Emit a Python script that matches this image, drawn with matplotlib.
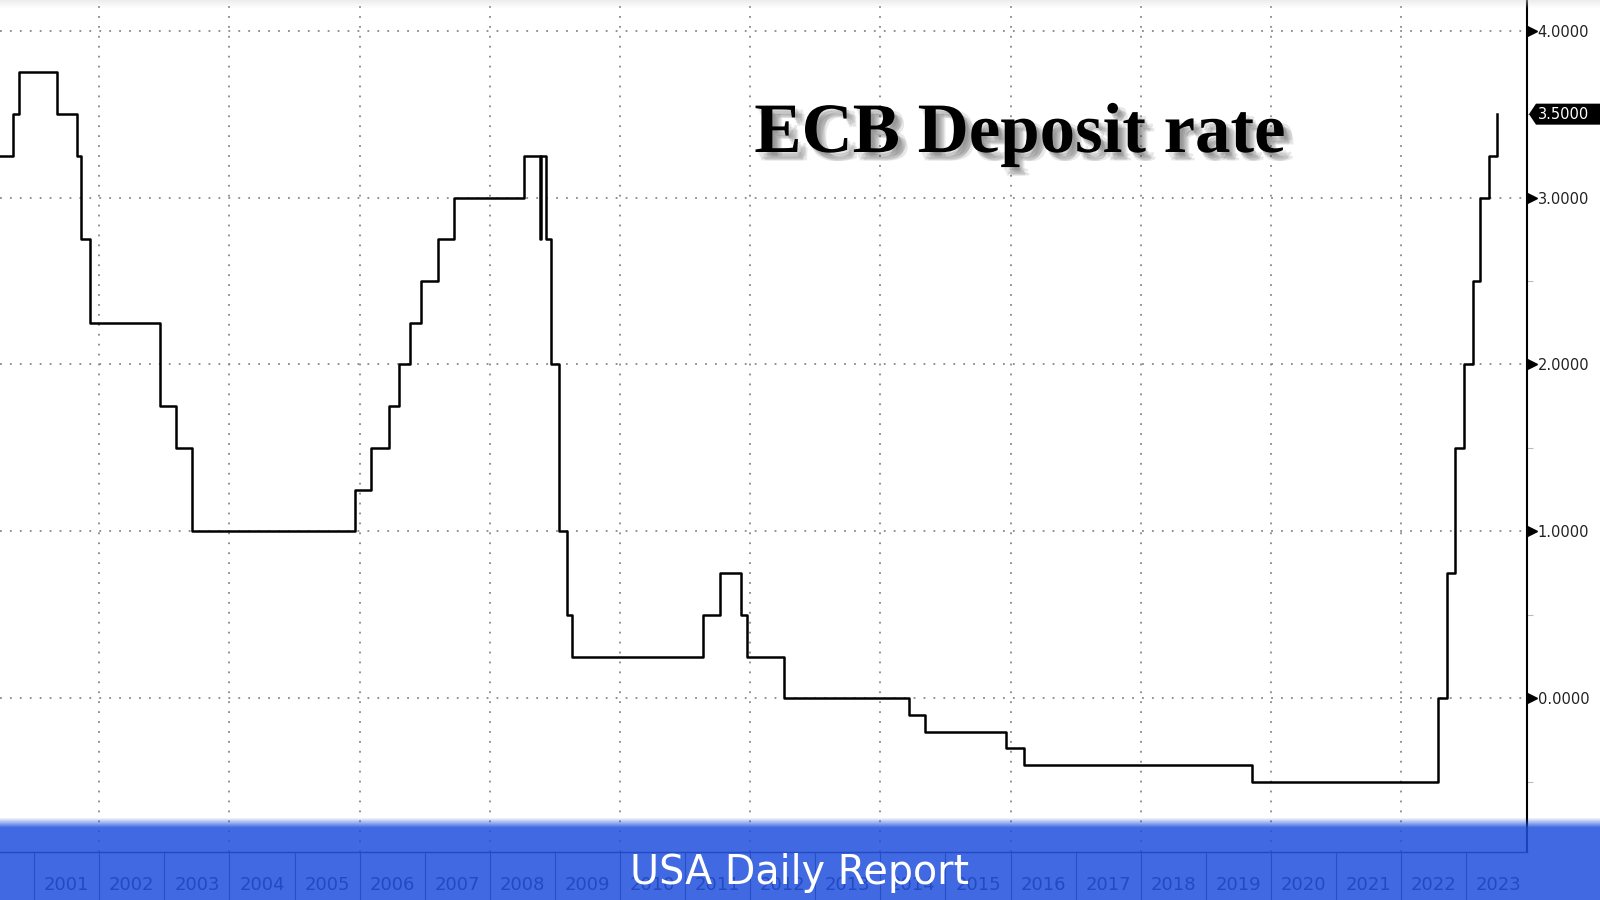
import matplotlib
matplotlib.use('Agg')
import matplotlib.pyplot as plt
import matplotlib.patheffects as pe
from matplotlib.patches import Rectangle, Polygon
from matplotlib.ticker import FixedLocator, FormatStrFormatter, NullFormatter
import numpy as np
import pandas as pd

# ECB deposit facility rate, date of each change and new level (%)
change_dates = ['2000-06-09', '2000-09-01', '2000-10-06', '2001-05-11', '2001-08-31',
                '2001-09-18', '2001-11-09', '2002-12-06', '2003-03-07', '2003-06-06',
                '2005-12-06', '2006-03-08', '2006-06-15', '2006-08-09', '2006-10-11',
                '2006-12-13', '2007-03-14', '2007-06-13', '2008-07-09', '2008-10-08',
                '2008-10-15', '2008-11-12', '2008-12-10', '2009-01-21', '2009-03-11',
                '2009-04-08', '2011-04-13', '2011-07-13', '2011-11-09', '2011-12-14',
                '2012-07-11', '2014-06-11', '2014-09-10', '2015-12-09', '2016-03-16',
                '2019-09-18', '2022-07-27', '2022-09-14', '2022-11-02', '2022-12-21',
                '2023-02-08', '2023-03-22', '2023-05-10', '2023-06-21']
deposit_rate = [3.25, 3.50, 3.75, 3.50, 3.25,
                2.75, 2.25, 1.75, 1.50, 1.00,
                1.25, 1.50, 1.75, 2.00, 2.25,
                2.50, 2.75, 3.00, 3.25, 2.75,
                3.25, 2.75, 2.00, 1.00, 0.50,
                0.25, 0.50, 0.75, 0.50, 0.25,
                0.00, -0.10, -0.20, -0.30, -0.40,
                -0.50, 0.00, 0.75, 1.50, 2.00,
                2.50, 3.00, 3.25, 3.50]
year_labels = [str(y) for y in range(2001, 2024)]
y_ticks = [0, 1, 2, 3, 4]

title = "ECB Deposit rate"
banner_text = "USA Daily Report"

# decimal years for the x axis
d = pd.to_datetime(change_dates)
x = d.year + (d.dayofyear - 1) / np.where(d.is_leap_year, 366, 365)

W, H = 1600, 900
fig = plt.figure(figsize=(16, 9), dpi=100)
ax = fig.add_axes([0, 1 - 852 / H, 1526.7 / W, 852 / H])

ax.step(x, deposit_rate, where='post', color='black', lw=1.8, zorder=3)

ax.set_xlim(2000.474, 2023.93)
ax.set_ylim(-0.921, 4.184)

# spines
for s in ['left', 'top']:
    ax.spines[s].set_visible(False)
ax.spines['right'].set_color('black')
ax.spines['right'].set_linewidth(1.5)
ax.spines['bottom'].set_color('#333333')
ax.spines['bottom'].set_linewidth(1.0)

# y axis on the right
ax.yaxis.tick_right()
ax.set_yticks(y_ticks)
ax.yaxis.set_major_formatter(FormatStrFormatter('%.4f'))
ax.yaxis.set_minor_locator(FixedLocator(np.arange(-0.5, 4.0, 1.0)))
ax.tick_params(axis='y', which='major', length=0, pad=8, labelsize=10.5,
               labelcolor='#222222')
ax.tick_params(axis='y', which='minor', length=4, width=0.8, color='#bbbbbb')
ax.plot([1.0032] * len(y_ticks), y_ticks, marker='>', ls='none', ms=7, color='black',
        transform=ax.get_yaxis_transform(), clip_on=False, zorder=4)

# x axis: separators at year starts, labels centred in each year
years = np.arange(2001, 2024)
ax.xaxis.set_major_locator(FixedLocator(years))
ax.xaxis.set_major_formatter(NullFormatter())
ax.xaxis.set_minor_locator(FixedLocator(years + 0.5))
ax.set_xticklabels(year_labels, minor=True)
ax.tick_params(axis='x', which='major', direction='out', length=36, width=0.8,
               color='#555555')
ax.tick_params(axis='x', which='minor', length=0, pad=17.5, labelsize=13,
               labelcolor='#333333')
for lab in ax.get_xticklabels(minor=True):
    lab.set_family(['Liberation Sans Narrow', 'DejaVu Sans'])

# dotted grid
grid_kw = dict(color='#888888', lw=1.3, ls=(0, (1, 4.5)), zorder=1)
for v in y_ticks:
    ax.axhline(v, **grid_kw)
for yr in range(2002, 2024, 2):
    ax.axvline(yr, **grid_kw)

# faint grey strip along the top edge
for i in range(8):
    fig.patches.append(Rectangle((0, 1 - (i + 1) / H), 1, 1 / H, transform=fig.transFigure,
                                 facecolor='#d8d8d8', edgecolor='none',
                                 alpha=0.45 * (1 - i / 8), zorder=2))

# title with soft shadow
shadow = [pe.SimplePatchShadow(offset=o, shadow_rgbFace='#444444', alpha=0.12)
          for o in [(2, -2), (3, -4), (5, -5), (6, -3), (4, -6), (7, -6)]]
fig.text(1020 / W, 1 - 152 / H, title, ha='center', va='baseline',
         fontsize=51, fontweight='bold', family='Liberation Serif',
         path_effects=shadow + [pe.Normal()], zorder=4)

# last value tag
fig.canvas.draw()
px, py = ax.transData.transform((x[-1], deposit_rate[-1]))
tip = 1529
hh = 10.5
verts = [(tip, py), (tip + 7, py + hh), (W + 5, py + hh), (W + 5, py - hh), (tip + 7, py - hh)]
verts = [(vx / W, vy / H) for vx, vy in verts]
fig.patches.append(Polygon(verts, closed=True, facecolor='black', edgecolor='none',
                           transform=fig.transFigure, zorder=4))
fig.text(1538 / W, py / H, f"{deposit_rate[-1]:.4f}", color='white', fontsize=10.5,
         ha='left', va='center', zorder=5)

# blue banner over the bottom of the chart
band_col = (31 / 255, 79 / 255, 220 / 255)
band_h = 73 / H
fig.patches.append(Rectangle((0, 0), 1, band_h, transform=fig.transFigure,
                             facecolor=band_col, edgecolor='none', alpha=0.85, zorder=6))
for i in range(9):
    fig.patches.append(Rectangle((0, band_h + i / H), 1, 1 / H, transform=fig.transFigure,
                                 facecolor=band_col, edgecolor='none',
                                 alpha=0.85 * (1 - (i + 1) / 10), zorder=6))
fig.text(0.5, 1 - 884 / H, banner_text, color='white', fontsize=28.5,
         ha='center', va='baseline', zorder=7)

fig.savefig('out.png', dpi=100)
